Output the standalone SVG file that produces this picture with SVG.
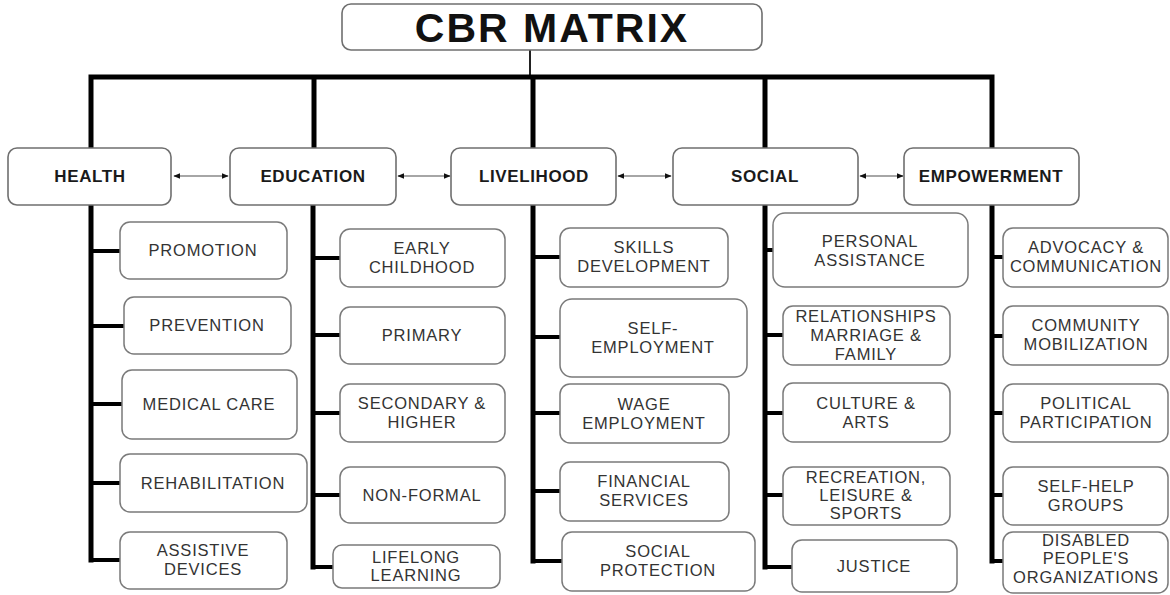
<svg xmlns="http://www.w3.org/2000/svg" width="1170" height="595" viewBox="0 0 1170 595">
<style>
#title rect{fill:#fff;stroke:#6f6f6f;stroke-width:1.6}
#title text{font-family:"Liberation Sans",Arial,sans-serif;font-weight:bold;font-size:41px;fill:#111;text-anchor:middle;letter-spacing:2px}
.cat rect{fill:#fff;stroke:#6f6f6f;stroke-width:1.6}
.cat text{font-family:"Liberation Sans",Arial,sans-serif;font-weight:bold;font-size:17px;fill:#1a1a1a;text-anchor:middle;letter-spacing:0.6px}
.sub rect{fill:#fff;stroke:#7a7a7a;stroke-width:1.5}
.sub text{font-family:"Liberation Sans",Arial,sans-serif;font-size:16.5px;fill:#333;text-anchor:middle;letter-spacing:0.8px}
.bar{stroke:#000;stroke-width:5;fill:none;stroke-linecap:square}
.tick{stroke:#000;stroke-width:4;fill:none}
.stem{stroke:#222;stroke-width:2;fill:none}
.arr{stroke:#888;stroke-width:1.3;fill:none;marker-start:url(#ah);marker-end:url(#ah)}
</style>
<defs>
<marker id="ah" viewBox="0 0 10 10" refX="9" refY="5" markerWidth="7" markerHeight="7" orient="auto-start-reverse" markerUnits="userSpaceOnUse">
<path d="M0,1 L10,5 L0,9 Z" fill="#111"/>
</marker>
</defs>
<rect width="1170" height="595" fill="#fff"/>

<g id="connectors">
<line class="stem" x1="530" y1="50" x2="530" y2="77"/>
<path class="bar" d="M91,148 V77 H992 V148 M314,77 V148 M533,77 V148 M765,77 V148"/>
<path class="bar" d="M91,205 V560 M313,205 V567 M533,205 V561 M765,205 V567 M992,205 V561"/>
<path class="tick" d="M91,251 H120 M91,326 H124 M91,404 H122 M91,483 H120 M89,560 H120"/>
<path class="tick" d="M313,258 H340 M313,335 H340 M313,413 H340 M313,495 H340 M311,567 H333"/>
<path class="tick" d="M533,257 H560 M533,337 H560 M533,413 H560 M533,491 H560 M531,561 H562"/>
<path class="tick" d="M765,250 H773 M765,335 H783 M765,413 H783 M765,495 H783 M763,567 H792"/>
<path class="tick" d="M992,257 H1003 M992,336 H1003 M992,413 H1003 M992,495 H1003 M990,561 H1003"/>
<line class="arr" x1="174" y1="176" x2="228" y2="176"/>
<line class="arr" x1="398" y1="176" x2="450" y2="176"/>
<line class="arr" x1="618" y1="176" x2="671" y2="176"/>
<line class="arr" x1="860" y1="176" x2="903" y2="176"/>
</g>

<g id="title">
<rect x="342" y="4" width="420" height="46" rx="9"/>
<text x="552" y="42">CBR MATRIX</text>
</g>

<g id="health" class="cat"><rect x="8" y="148" width="163" height="57" rx="9"/><text x="90" y="182">HEALTH</text></g>
<g id="education" class="cat"><rect x="230" y="148" width="166" height="57" rx="9"/><text x="313" y="182">EDUCATION</text></g>
<g id="livelihood" class="cat"><rect x="451" y="148" width="165" height="57" rx="9"/><text x="534" y="182">LIVELIHOOD</text></g>
<g id="social" class="cat"><rect x="673" y="148" width="185" height="57" rx="9"/><text x="765" y="182">SOCIAL</text></g>
<g id="empowerment" class="cat"><rect x="904" y="148" width="175" height="57" rx="9"/><text x="991" y="182">EMPOWERMENT</text></g>

<g id="promotion" class="sub"><rect x="120" y="222" width="167" height="57" rx="10"/><text x="203" y="256">PROMOTION</text></g>
<g id="prevention" class="sub"><rect x="124" y="297" width="167" height="57" rx="10"/><text x="207" y="331">PREVENTION</text></g>
<g id="medical-care" class="sub"><rect x="122" y="370" width="175" height="69" rx="10"/><text x="209" y="410">MEDICAL CARE</text></g>
<g id="rehabilitation" class="sub"><rect x="120" y="454" width="187" height="58" rx="10"/><text x="213" y="489">REHABILITATION</text></g>
<g id="assistive-devices" class="sub"><rect x="120" y="532" width="167" height="57" rx="10"/><text x="203" y="556">ASSISTIVE</text><text x="203" y="575">DEVICES</text></g>

<g id="early-childhood" class="sub"><rect x="340" y="229" width="165" height="58" rx="10"/><text x="422" y="254">EARLY</text><text x="422" y="273">CHILDHOOD</text></g>
<g id="primary" class="sub"><rect x="340" y="307" width="165" height="57" rx="10"/><text x="422" y="341">PRIMARY</text></g>
<g id="secondary-higher" class="sub"><rect x="340" y="384" width="165" height="58" rx="10"/><text x="422" y="409">SECONDARY &amp;</text><text x="422" y="428">HIGHER</text></g>
<g id="non-formal" class="sub"><rect x="340" y="467" width="165" height="56" rx="10"/><text x="422" y="501">NON-FORMAL</text></g>
<g id="lifelong-learning" class="sub"><rect x="333" y="545" width="167" height="43" rx="9"/><text x="416" y="563">LIFELONG</text><text x="416" y="581">LEARNING</text></g>

<g id="skills-development" class="sub"><rect x="560" y="228" width="168" height="59" rx="10"/><text x="644" y="253">SKILLS</text><text x="644" y="272">DEVELOPMENT</text></g>
<g id="self-employment" class="sub"><rect x="560" y="299" width="187" height="78" rx="12"/><text x="653" y="334">SELF-</text><text x="653" y="353">EMPLOYMENT</text></g>
<g id="wage-employment" class="sub"><rect x="560" y="384" width="169" height="59" rx="10"/><text x="644" y="410">WAGE</text><text x="644" y="429">EMPLOYMENT</text></g>
<g id="financial-services" class="sub"><rect x="560" y="462" width="169" height="59" rx="10"/><text x="644" y="487">FINANCIAL</text><text x="644" y="506">SERVICES</text></g>
<g id="social-protection" class="sub"><rect x="562" y="532" width="193" height="59" rx="10"/><text x="658" y="557">SOCIAL</text><text x="658" y="576">PROTECTION</text></g>

<g id="personal-assistance" class="sub"><rect x="773" y="213" width="195" height="74" rx="12"/><text x="870" y="247">PERSONAL</text><text x="870" y="266">ASSISTANCE</text></g>
<g id="relationships" class="sub"><rect x="783" y="306" width="167" height="59" rx="10"/><text x="866" y="322">RELATIONSHIPS</text><text x="866" y="341">MARRIAGE &amp;</text><text x="866" y="360">FAMILY</text></g>
<g id="culture-arts" class="sub"><rect x="783" y="383" width="167" height="59" rx="10"/><text x="866" y="409">CULTURE &amp;</text><text x="866" y="428">ARTS</text></g>
<g id="recreation" class="sub"><rect x="783" y="467" width="167" height="58" rx="10"/><text x="866" y="483">RECREATION,</text><text x="866" y="501">LEISURE &amp;</text><text x="866" y="519">SPORTS</text></g>
<g id="justice" class="sub"><rect x="792" y="540" width="165" height="52" rx="10"/><text x="874" y="572">JUSTICE</text></g>

<g id="advocacy" class="sub"><rect x="1003" y="228" width="165" height="59" rx="10"/><text x="1086" y="253">ADVOCACY &amp;</text><text x="1086" y="272">COMMUNICATION</text></g>
<g id="community-mobilization" class="sub"><rect x="1003" y="306" width="165" height="59" rx="10"/><text x="1086" y="331">COMMUNITY</text><text x="1086" y="350">MOBILIZATION</text></g>
<g id="political-participation" class="sub"><rect x="1003" y="384" width="165" height="58" rx="10"/><text x="1086" y="409">POLITICAL</text><text x="1086" y="428">PARTICIPATION</text></g>
<g id="self-help-groups" class="sub"><rect x="1003" y="467" width="165" height="58" rx="10"/><text x="1086" y="492">SELF-HELP</text><text x="1086" y="511">GROUPS</text></g>
<g id="dpo" class="sub"><rect x="1003" y="532" width="165" height="61" rx="10"/><text x="1086" y="546">DISABLED</text><text x="1086" y="564">PEOPLE'S</text><text x="1086" y="583">ORGANIZATIONS</text></g>
</svg>
